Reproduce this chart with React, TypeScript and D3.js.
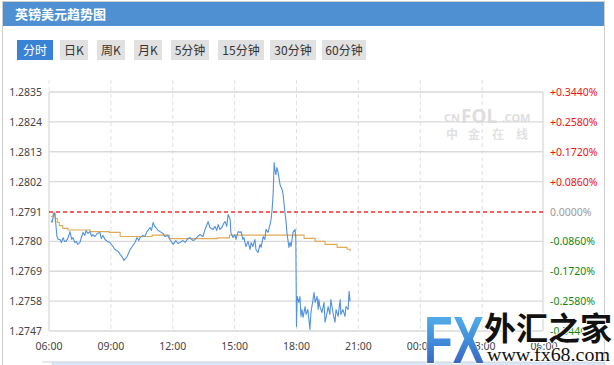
import React from "react";
import * as d3 from "d3";

// ---- data ----
const title = "英镑美元趋势图";
const tabs = ["分时", "日K", "周K", "月K", "5分钟", "15分钟", "30分钟", "60分钟"];
const prevClose = 1.2791;
const priceTicks = [1.2835, 1.2824, 1.2813, 1.2802, 1.2791, 1.278, 1.2769, 1.2758, 1.2747];
const pctLabels = ["+0.3440%", "+0.2580%", "+0.1720%", "+0.0860%", "0.0000%", "-0.0860%", "-0.1720%", "-0.2580%", "-0.3440%"];
const timeTickMinutes = [0, 180, 360, 540, 720, 900, 1080, 1260, 1440];
const timeTickLabels = ["06:00", "09:00", "12:00", "15:00", "18:00", "21:00", "00:00", "03:00", "06:00"];

// minutes since 06:00
const priceMinutes = [
  6, 9, 12, 15, 17, 20, 23, 27, 32, 36, 41, 45, 49, 55, 61, 66, 70, 75, 79, 84, 90, 95, 99, 104, 108, 113, 119, 124, 128, 134, 140, 148, 152, 157, 163, 170, 177, 186, 192, 201, 207, 212, 218, 227, 236, 244, 250, 256, 261, 265, 273, 279, 285, 294, 298, 303, 307, 311, 317, 323, 332, 337, 345, 352, 361, 369, 375, 381, 390, 396, 404, 410, 419, 425, 433, 439, 448, 454, 463, 468, 477, 483, 488, 492, 497, 503, 508, 512, 517, 521, 527, 529, 535, 541, 544, 550, 556, 559, 564, 567, 573, 579, 585, 588, 593, 599, 602, 608, 614, 617, 623, 628, 631, 637, 643, 646, 649, 652, 655, 657, 660, 663, 666, 669, 672, 678, 681, 684, 687, 689, 692, 698, 701, 704, 710, 716, 718, 720, 722, 727, 730, 733, 736, 739, 745, 748, 753, 756, 759, 762, 768, 771, 774, 780, 783, 785, 788, 794, 800, 803, 809, 812, 817, 820, 826, 832, 835, 841, 847, 849, 855, 861, 864, 870, 873, 876,
];
const priceValues = [
  1.27877, 1.27870, 1.27888, 1.27906, 1.27899, 1.27862, 1.27818, 1.27807, 1.27807, 1.27796, 1.27814, 1.27800, 1.27800, 1.27811, 1.27836, 1.27807, 1.27814, 1.27796, 1.27800, 1.27789, 1.27796, 1.27818, 1.27833, 1.27822, 1.27840, 1.27829, 1.27836, 1.27818, 1.27825, 1.27818, 1.27829, 1.27833, 1.27811, 1.27822, 1.27807, 1.27800, 1.27796, 1.27781, 1.27770, 1.27763, 1.27752, 1.27744, 1.27730, 1.27744, 1.27770, 1.27785, 1.27796, 1.27814, 1.27803, 1.27814, 1.27822, 1.27818, 1.27836, 1.27851, 1.27840, 1.27870, 1.27855, 1.27851, 1.27840, 1.27836, 1.27829, 1.27818, 1.27822, 1.27807, 1.27789, 1.27803, 1.27792, 1.27796, 1.27803, 1.27796, 1.27811, 1.27814, 1.27803, 1.27807, 1.27818, 1.27825, 1.27818, 1.27844, 1.27873, 1.27851, 1.27844, 1.27855, 1.27840, 1.27862, 1.27844, 1.27851, 1.27866, 1.27873, 1.27855, 1.27899, 1.27881, 1.27833, 1.27814, 1.27825, 1.27807, 1.27836, 1.27833, 1.27836, 1.27807, 1.27814, 1.27781, 1.27800, 1.27770, 1.27796, 1.27781, 1.27807, 1.27770, 1.27759, 1.27789, 1.27778, 1.27818, 1.27807, 1.27844, 1.27833, 1.27862, 1.27881, 1.27917, 1.27973, 1.28090, 1.28065, 1.28046, 1.28072, 1.28057, 1.28035, 1.28009, 1.27991, 1.27973, 1.27936, 1.27899, 1.27881, 1.27833, 1.27778, 1.27796, 1.27781, 1.27833, 1.27844, 1.27807, 1.27487, 1.27597, 1.27575, 1.27597, 1.27524, 1.27549, 1.27520, 1.27560, 1.27531, 1.27549, 1.27513, 1.27476, 1.27538, 1.27586, 1.27612, 1.27575, 1.27597, 1.27549, 1.27586, 1.27560, 1.27538, 1.27575, 1.27502, 1.27538, 1.27560, 1.27531, 1.27586, 1.27538, 1.27502, 1.27549, 1.27524, 1.27586, 1.27531, 1.27549, 1.27524, 1.27560, 1.27549, 1.27616, 1.27579,
];

const avgMinutes = [6, 12, 18, 24, 30, 40, 55, 120, 175, 207, 300, 350, 490, 525, 742, 774, 803, 838, 867, 876];
const avgValues = [1.27892, 1.27903, 1.27885, 1.2787, 1.27858, 1.27848, 1.27842, 1.27836, 1.27833, 1.27818, 1.27823, 1.2781, 1.27813, 1.27823, 1.27811, 1.278, 1.27789, 1.27778, 1.27771, 1.27764];

// ---- layout ----
const W = 614;
const H = 365;
const plot = { left: 49, right: 544, top: 92, bottom: 331 };

export default function App() {
  const x = d3.scaleLinear().domain([0, 1440]).range([plot.left, plot.right]);
  const y = d3.scaleLinear().domain([1.2747, 1.2835]).range([plot.bottom, plot.top]);

  const priceLine = d3
    .line<number>()
    .x((_, i) => x(priceMinutes[i]))
    .y((d) => y(d))(priceValues) || "";
  const avgLine = d3
    .line<number>()
    .x((_, i) => x(avgMinutes[i]))
    .y((d) => y(d))
    .curve(d3.curveStepAfter)(avgValues) || "";

  const tabX = [17, 60, 97, 134, 171, 218, 270, 322];
  const tabW = [36, 28, 28, 28, 38, 46, 46, 44];
  const cn = "'Noto Sans CJK SC', 'Noto Sans', sans-serif";
  const num = "'Noto Sans', 'DejaVu Sans', sans-serif";
  const closeY = Math.round(y(prevClose));

  return (
    <svg
      width={W}
      height={H}
      style={{ position: "absolute", left: 0, top: 0, background: "#fff" }}
    >
      <defs>
        <linearGradient id="fxg" x1="0" y1="0" x2="0" y2="1">
          <stop offset="0%" stopColor="#5cc0f0" />
          <stop offset="55%" stopColor="#3f88d8" />
          <stop offset="100%" stopColor="#3a4fb0" />
        </linearGradient>
      </defs>
      {/* frame */}
      <rect x={2.5} y={1.5} width={602} height={H} fill="#fff" stroke="#cfcfcf" />
      <rect x={3} y={2} width={601} height={24} fill="#4e90d2" />
      <text x={15} y={19} fill="#fff" fontSize={13} fontWeight="bold" fontFamily={cn}>
        {title}
      </text>

      {/* tabs */}
      {tabs.map((t, i) => (
        <g key={t + i}>
          <rect x={tabX[i]} y={40} width={tabW[i]} height={20} fill={i === 0 ? "#3a82d6" : "#e1e1e1"} />
          <text
            x={tabX[i] + tabW[i] / 2}
            y={54.5}
            textAnchor="middle"
            fontSize={12}
            fontFamily={cn}
            fill={i === 0 ? "#fff" : "#333"}
          >
            {t}
          </text>
        </g>
      ))}

      {/* watermark cnfol */}
      <g fill="#dedede" fontFamily={num} fontWeight="bold">
        <text x={444} y={122} fontSize={11}>CN</text>
        <text x={461} y={123} fontSize={19}>FOL</text>
        <text x={502} y={122} fontSize={11}>.COM</text>
      </g>
      <g fill="#e2e2e2" fontFamily={cn} fontWeight="bold" fontSize={12}>
        <text x={446} y={139}>中</text>
        <text x={468} y={139}>金</text>
        <text x={492} y={139}>在</text>
        <text x={516} y={139}>线</text>
      </g>

      {/* vertical dashed grid */}
      {timeTickMinutes.slice(1, -1).map((m) => (
        <line key={m} x1={x(m)} x2={x(m)} y1={80} y2={plot.bottom} stroke="#e0e0e0" strokeDasharray="4,3" />
      ))}
      <line x1={plot.left} x2={plot.left} y1={80} y2={plot.top} stroke="#e8e8e8" strokeDasharray="4,3" />
      {/* horizontal grid */}
      {priceTicks.map((t, i) =>
        i === 4 ? null : (
          <line key={t} x1={plot.left} x2={plot.right - 1} y1={y(t)} y2={y(t)} stroke="#d9d9d9" strokeWidth={1.3} />
        )
      )}
      <line x1={plot.left} x2={plot.left} y1={plot.top} y2={plot.bottom} stroke="#d9d9d9" strokeWidth={1.3} />
      <line x1={plot.right - 1} x2={plot.right - 1} y1={plot.top} y2={plot.bottom} stroke="#d9d9d9" strokeWidth={1.3} />

      {/* prev close */}
      <line x1={plot.left} x2={plot.right - 1} y1={closeY} y2={closeY} stroke="#ff2a2a" strokeWidth={1.6} strokeDasharray="4,3" />

      {/* series */}
      <path d={avgLine} fill="none" stroke="#deaa55" strokeWidth={1.1} />
      <path d={priceLine} fill="none" stroke="#5292de" strokeWidth={1.1} strokeLinejoin="round" />

      {/* left labels */}
      {priceTicks.map((t) => (
        <text key={t} x={42} y={y(t) + 4} textAnchor="end" fontSize={10.5} fontFamily={num} fill="#444">
          {t.toFixed(4)}
        </text>
      ))}
      {/* right labels */}
      {priceTicks.map((t, i) => (
        <text
          key={"p" + t}
          x={550}
          y={y(t) + 4}
          fontSize={10.5}
          fontFamily={num}
          fill={i < 4 ? "#ee1111" : i === 4 ? "#9a9a9a" : "#118811"}
        >
          {pctLabels[i]}
        </text>
      ))}
      {/* x labels */}
      {timeTickMinutes.map((m, i) => (
        <text key={"t" + i} x={x(m)} y={350} textAnchor="middle" fontSize={10.5} fontFamily={num} fill="#444">
          {timeTickLabels[i]}
        </text>
      ))}

      {/* navigator */}
      <line x1={42} x2={604} y1={362} y2={362} stroke="#d4d4d4" />
      <rect x={52} y={362.5} width={552} height={4} fill="#dbe8f7" stroke="#c6d6ea" strokeWidth={0.6} />

      {/* fx68 logo */}
      <g>
        <text
          x={424}
          y={363}
          fontSize={66}
          fontWeight="bold"
          fontFamily="'Liberation Sans', Arial, sans-serif"
          textLength={60}
          lengthAdjust="spacingAndGlyphs"
          fill="url(#fxg)"
          stroke="#fff"
          strokeWidth={1.5}
          paintOrder="stroke"
        >
          FX
        </text>
        <text
          x={484}
          y={340}
          fontSize={32}
          fontWeight="bold"
          fontFamily={cn}
          fill="#111"
          stroke="#fff"
          strokeWidth={2}
          paintOrder="stroke"
          textLength={128}
          lengthAdjust="spacingAndGlyphs"
        >
          外汇之家
        </text>
        <text
          x={487}
          y={361}
          fontSize={18}
          fontFamily="'Liberation Serif', 'DejaVu Serif', serif"
          fill="#111"
          stroke="#fff"
          strokeWidth={1.5}
          paintOrder="stroke"
          textLength={123}
          lengthAdjust="spacingAndGlyphs"
        >
          www.fx68.com
        </text>
      </g>
    </svg>
  );
}
